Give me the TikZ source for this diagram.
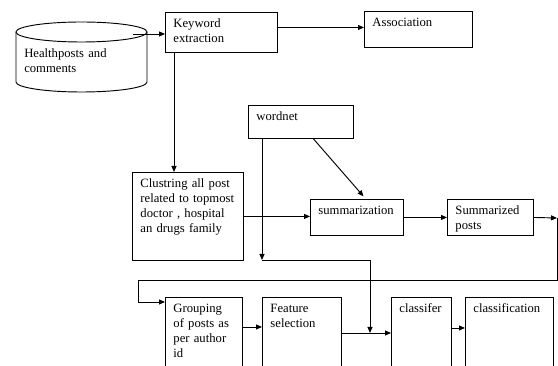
\documentclass[tikz,border=0pt]{standalone}
\usepackage{fontspec}
\setmainfont{Liberation Serif}
\usetikzlibrary{arrows.meta}
\begin{document}
\begin{tikzpicture}[x=0.75pt,y=-0.75pt]
		\tikzstyle{bloc}=[draw, line width=0.7pt, anchor=north west, align=left, inner xsep=6pt, inner ysep=4.5pt, text height=7pt, font={\fontsize{9.5pt}{11.25pt}\selectfont}]
		\tikzstyle{fleche}=[line width=0.7pt, -{Triangle[length=4.5pt,width=3.75pt]}]
		\tikzstyle{trait}=[line width=0.7pt]
		\useasboundingbox (0,0) rectangle (558,366);
		\clip (0,0) rectangle (558,366);
		% base de donnees
		\draw[trait] (81.5,32) ellipse [x radius=65.5, y radius=10];
		\draw[trait] (16,32) -- (16,82) arc[start angle=180, end angle=0, x radius=65.5, y radius=10] -- (147,32);
		\node[anchor=north west, inner sep=0pt, text width=90pt, text height=7pt, align=left, font={\fontsize{9.5pt}{11.25pt}\selectfont}] (posts) at (24,48) {Healthposts and\\comments};
		\coordinate (src) at (133,34);
		% ligne du haut
		\node[bloc, text width=72pt, text depth=14pt] (kw) at (165,12) {Keyword\\extraction};
		\node[bloc, text width=69pt, text depth=11pt] (assoc) at (364,11) {Association};
		% milieu
		\node[bloc, text width=66.75pt, text depth=8.75pt] (wn) at (248,105) {wordnet};
		\node[bloc, text width=71.25pt, text depth=50pt] (clust) at (132,172) {Clustring all post\\related to topmost\\doctor , hospital\\an drugs family};
		\node[bloc, text width=57.75pt, text depth=11pt] (summ) at (310,199) {summarization};
		\node[bloc, text width=52.5pt, text depth=11pt] (spost) at (447,199) {Summarized\\posts};
		% ligne du bas
		\node[bloc, text width=45.75pt, text depth=59pt] (grp) at (165,297) {Grouping\\of posts as\\per author\\id};
		\node[bloc, text width=47.25pt, text depth=59pt] (feat) at (262,297) {Feature\\selection};
		\node[bloc, text width=33pt, text depth=59pt] (cf) at (391,297) {classifer};
		\node[bloc, text width=54pt, text depth=59pt] (clsf) at (465,297) {classification};
		% coins des liaisons
		\coordinate (j1) at (262,260);
		\coordinate (j2) at (370,333);
		\coordinate (j3) at (557,218);
		\coordinate (j4) at (138,280);
		\draw[fleche] (src) -- (src -| kw.west);
		\draw[fleche] ([yshift=3.75pt]kw.east) -- ([yshift=3.75pt]kw.east -| assoc.west);
		\draw[fleche] ([xshift=6.75pt]kw.south west) -- ([xshift=6.75pt]kw.south west |- clust.north);
		\draw[fleche] (clust.east) -- (clust.east -| summ.west);
		\draw[fleche] ([xshift=9.4pt]wn.south) -- ([xshift=4.9pt,yshift=2pt]summ.north);
		\draw[fleche] ([xshift=10.5pt]wn.south west) -- (j1);
		\draw[fleche] (j1) -| (j2);
		\draw[fleche] (summ.east) -- (spost.west);
		\draw[fleche] (spost.east) -- (j3);
		\draw[trait] (j3) -- (j3 |- j4) -- (j4);
		\draw[fleche] (j4) |- ([yshift=-3.75pt]grp.north west);
		\draw[fleche] ([yshift=-22.5pt]grp.north east) -- ([yshift=-22.5pt]grp.north east -| feat.west);
		\draw[fleche] ([yshift=-27pt]feat.north east) -- ([yshift=-27pt]feat.north east -| cf.west);
		\draw[fleche] ([yshift=-23.25pt]cf.north east) -- ([yshift=-23.25pt]cf.north east -| clsf.west);
	\end{tikzpicture}
\end{document}
